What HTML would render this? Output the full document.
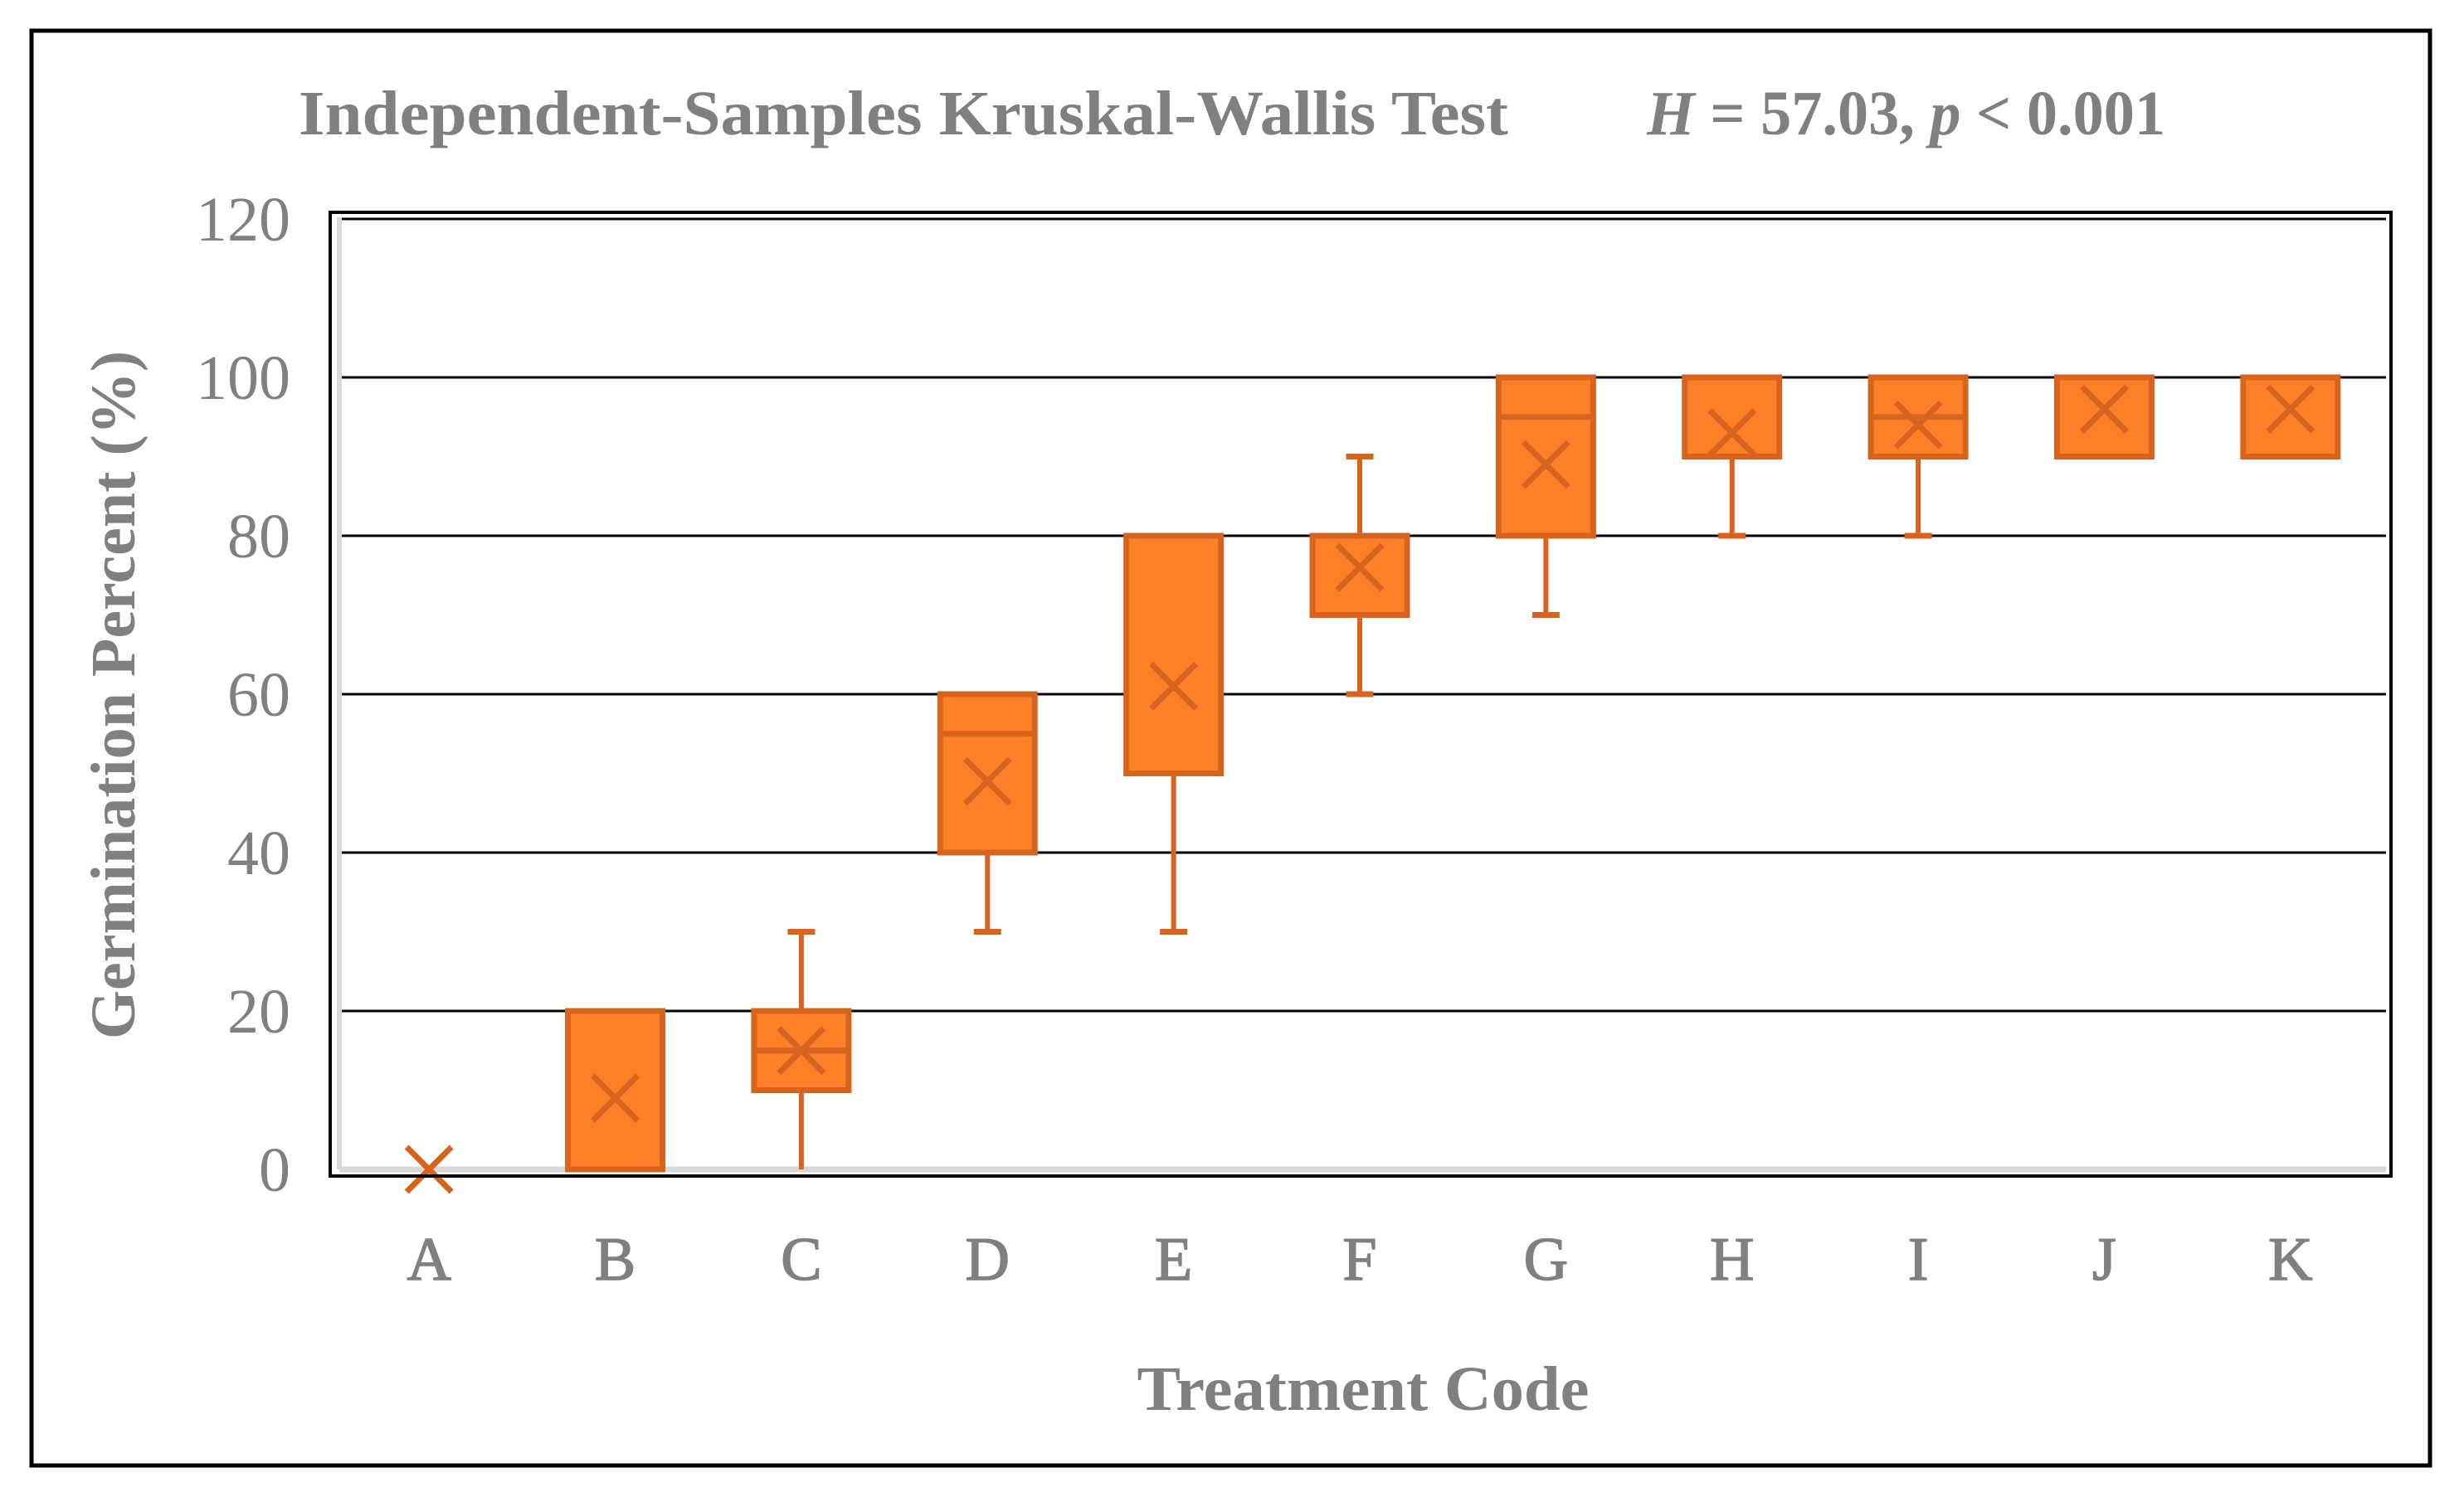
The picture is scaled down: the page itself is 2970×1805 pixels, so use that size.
<!DOCTYPE html>
<html><head><meta charset="utf-8"><style>
body{margin:0;background:#fff;}
svg{display:block;}
text{font-family:"Liberation Serif",serif;fill:#808080;}
</style></head><body>
<svg id="chart" width="2970" height="1805" xmlns="http://www.w3.org/2000/svg">
<rect x="38" y="37" width="2891" height="1730" fill="#fff" stroke="#000" stroke-width="5"/>
<text x="360" y="162" font-size="76" font-weight="bold" textLength="1458" lengthAdjust="spacingAndGlyphs">Independent-Samples Kruskal-Wallis Test</text>
<text x="1985" y="162" font-size="76" font-weight="bold" textLength="625" lengthAdjust="spacingAndGlyphs"><tspan font-style="italic">H</tspan> = 57.03, <tspan font-style="italic">p</tspan> &lt; 0.001</text>
<text transform="translate(162,838) rotate(-90)" text-anchor="middle" font-size="76" font-weight="bold">Germination Percent (%)</text>
<text x="1643" y="1700" text-anchor="middle" font-size="76" font-weight="bold" textLength="545" lengthAdjust="spacingAndGlyphs">Treatment Code</text>
<g id="grid"></g>
<g id="marks"></g>
<rect x="398" y="256" width="2484" height="1162" fill="none" stroke="#000" stroke-width="4"/>
</svg>
<script>
const categories=["A","B","C","D","E","F","G","H","I","J","K"];
const mins=[0,0,0,30,30,60,70,80,80,90,90];
const q1s=[0,0,10,40,50,70,80,90,90,90,90];
const medians=[0,0,15,55,50,70,95,90,95,100,100];
const q3s=[0,20,20,60,80,80,100,100,100,100,100];
const maxs=[0,20,30,60,80,90,100,100,100,100,100];
const means=[0,9,15,49,61,76,89,93,94,96,96];
const yTicks=[0,20,40,60,80,100,120];

const NS="http://www.w3.org/2000/svg";
const L=405,R=2873,Y0=1410,Y120=264;
const y=v=>Y0-(v/120)*(Y0-Y120);
const band=(R-L)/categories.length;
const x=i=>L+band*(i+0.5);
function mk(tag,attrs,parent){const e=document.createElementNS(NS,tag);for(const k in attrs)e.setAttribute(k,attrs[k]);parent.appendChild(e);return e;}
const grid=document.getElementById('grid'),marks=document.getElementById('marks');
mk('line',{x1:409,y1:262,x2:409,y2:Y0,stroke:'#d9d9d9','stroke-width':6},grid);
yTicks.forEach(t=>{
  if(t===0){const g=mk('line',{x1:409,y1:y(t),x2:2876,y2:y(t),stroke:'#d9d9d9','stroke-width':7},grid);
    
    }
  else{const g=mk('line',{x1:412,y1:y(t),x2:2876,y2:y(t),stroke:'#000','stroke-width':3},grid);
    
    }
  const tx=mk('text',{x:350,y:y(t)+26,'text-anchor':'end','font-size':76},grid);
  tx.textContent=t;
  
  
});
const S='#D6641E',F='#FD7F27',bw=114,cw=33,ms=27;
categories.forEach((c,i)=>{
  const cx=x(i);
  const g=mk('g',{},marks);
  
  
  if(maxs[i]>q3s[i]){mk('line',{x1:cx,y1:y(maxs[i]),x2:cx,y2:y(q3s[i]),stroke:S,'stroke-width':6},g);
    mk('line',{x1:cx-cw/2,y1:y(maxs[i]),x2:cx+cw/2,y2:y(maxs[i]),stroke:S,'stroke-width':7},g);}
  if(mins[i]<q1s[i]){mk('line',{x1:cx,y1:y(q1s[i]),x2:cx,y2:y(mins[i]),stroke:S,'stroke-width':6},g);
    if(mins[i]>0)mk('line',{x1:cx-cw/2,y1:y(mins[i]),x2:cx+cw/2,y2:y(mins[i]),stroke:S,'stroke-width':7},g);}
  if(q3s[i]>q1s[i]){
    mk('rect',{x:cx-bw/2,y:y(q3s[i]),width:bw,height:y(q1s[i])-y(q3s[i]),fill:F,stroke:S,'stroke-width':7},g);
    if(medians[i]>q1s[i]&&medians[i]<q3s[i])mk('line',{x1:cx-bw/2,y1:y(medians[i]),x2:cx+bw/2,y2:y(medians[i]),stroke:S,'stroke-width':7},g);
  }
  const my=y(means[i]);
  mk('path',{d:`M${cx-ms},${my-ms} L${cx+ms},${my+ms} M${cx-ms},${my+ms} L${cx+ms},${my-ms}`,stroke:S,'stroke-width':7,fill:'none'},g);
  const t=mk('text',{x:cx,y:1543,'text-anchor':'middle','font-size':74,'stroke':'#808080','stroke-width':1.5},marks);
  t.textContent=c;
  
  
});
</script>
</body></html>
